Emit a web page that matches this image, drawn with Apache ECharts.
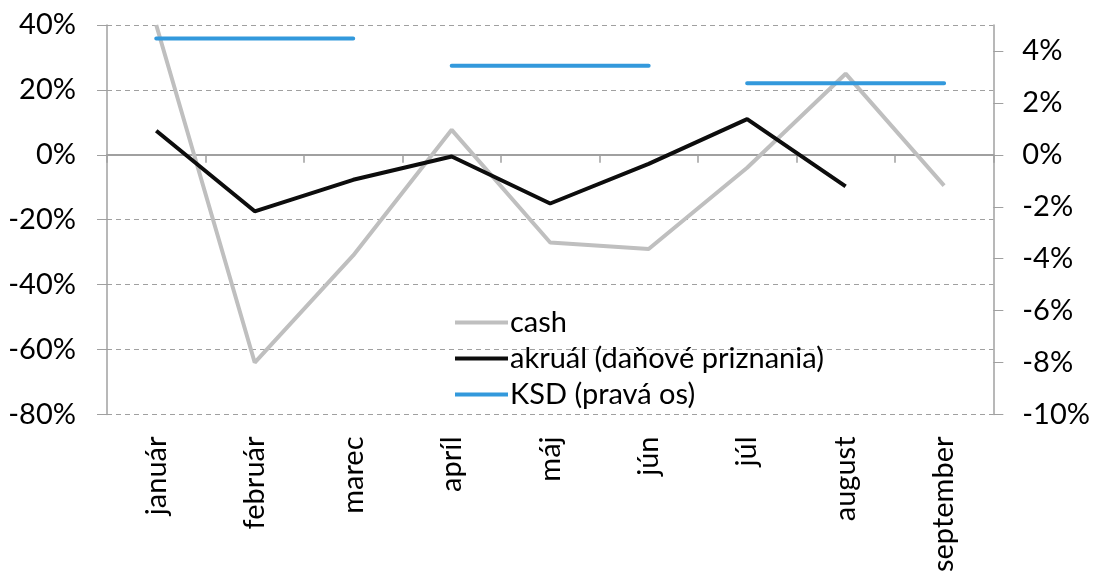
<!DOCTYPE html>
<html>
<head>
<meta charset="utf-8">
<script src="https://cdn.jsdelivr.net/npm/echarts@6/dist/echarts.min.js"></script>
<style>
  html, body { margin: 0; padding: 0; background: #fff; }
  #chart { width: 1093px; height: 575px; }
</style>
</head>
<body>
<div id="chart"></div>
<script>
const months = ["január", "február", "marec", "apríl", "máj", "jún", "júl", "august", "september"];
const cash = [40, -64, -31, 7.7, -27, -29, -4, 25, -9.5];
const akrual = [7.4, -17.4, -7.7, -0.5, -15, -2.8, 11, -9.7];
// KSD is quarterly, drawn as one flat segment per quarter
const ksdQ1 = [4.48, 4.48, 4.48];
const ksdQ2 = [3.43, 3.43, 3.43];
const ksdQ3 = [2.76, 2.76, 2.76];

const font = "Lato, 'Open Sans', sans-serif";
const fontSize = 29;
const axisGray = "#a0a0a0";

const chart = echarts.init(document.getElementById("chart"));

const quarter = (vals, start) =>
  months.map((m, i) => (i >= start && i < start + 3 ? vals[i - start] : null));

const ksdSeries = [ksdQ1, ksdQ2, ksdQ3].map((q, k) => ({
  name: "KSD (pravá os)",
  type: "line",
  yAxisIndex: 1,
  data: quarter(q, k * 3),
  showSymbol: false,
  connectNulls: false,
  lineStyle: { color: "#3399dc", width: 4, cap: "round" },
  itemStyle: { color: "#3399dc" },
  z: 3
}));

chart.setOption({
  animation: false,
  grid: { left: 107, right: 93, top: 25, bottom: 160 },
  legend: {
    orient: "vertical",
    left: 450,
    top: 303,
    itemWidth: 53,
    itemHeight: 4,
    itemGap: 7,
    icon: "rect",
    textStyle: { fontFamily: font, fontSize: fontSize, color: "#000", padding: [0, 0, 0, -3] },
    data: ["cash", "akruál (daňové priznania)", "KSD (pravá os)"]
  },
  xAxis: [
    {
      type: "category",
      data: months,
      axisLine: { show: false },
      axisTick: { show: false },
      axisLabel: {
        rotate: 90,
        margin: 22,
        interval: 0,
        fontFamily: font,
        fontSize: fontSize,
        color: "#000"
      }
    },
    {
      type: "category",
      data: months,
      position: "bottom",
      axisLine: { onZero: true, lineStyle: { color: axisGray, width: 2 } },
      axisTick: { show: true, length: 8, lineStyle: { color: axisGray, width: 1.5 } },
      axisLabel: { show: false }
    }
  ],
  yAxis: [
    {
      type: "value",
      min: -80,
      max: 40,
      interval: 20,
      axisLine: { show: true, lineStyle: { color: axisGray, width: 1.5 } },
      axisTick: { show: true, length: 10, lineStyle: { color: axisGray } },
      axisLabel: {
        formatter: "{value}%",
        margin: 31,
        fontFamily: font,
        fontSize: fontSize,
        color: "#000"
      },
      splitLine: { show: true, lineStyle: { color: axisGray, type: [5, 4], width: 1 } }
    },
    {
      type: "value",
      min: -10,
      max: 5,
      interval: 2,
      position: "right",
      axisLine: { show: true, lineStyle: { color: axisGray, width: 1.5 } },
      axisTick: { show: true, length: 10, lineStyle: { color: axisGray } },
      axisLabel: {
        formatter: "{value}%",
        margin: 29,
        showMaxLabel: false,
        fontFamily: font,
        fontSize: fontSize,
        color: "#000"
      },
      splitLine: { show: false }
    }
  ],
  series: [
    {
      name: "cash",
      type: "line",
      data: cash,
      showSymbol: false,
      lineStyle: { color: "#bfbfbf", width: 4 },
      itemStyle: { color: "#bfbfbf" },
      z: 2
    },
    {
      name: "akruál (daňové priznania)",
      type: "line",
      data: akrual,
      showSymbol: false,
      lineStyle: { color: "#0d0d0d", width: 4 },
      itemStyle: { color: "#0d0d0d" },
      z: 4
    },
    ...ksdSeries
  ]
});
</script>
</body>
</html>
